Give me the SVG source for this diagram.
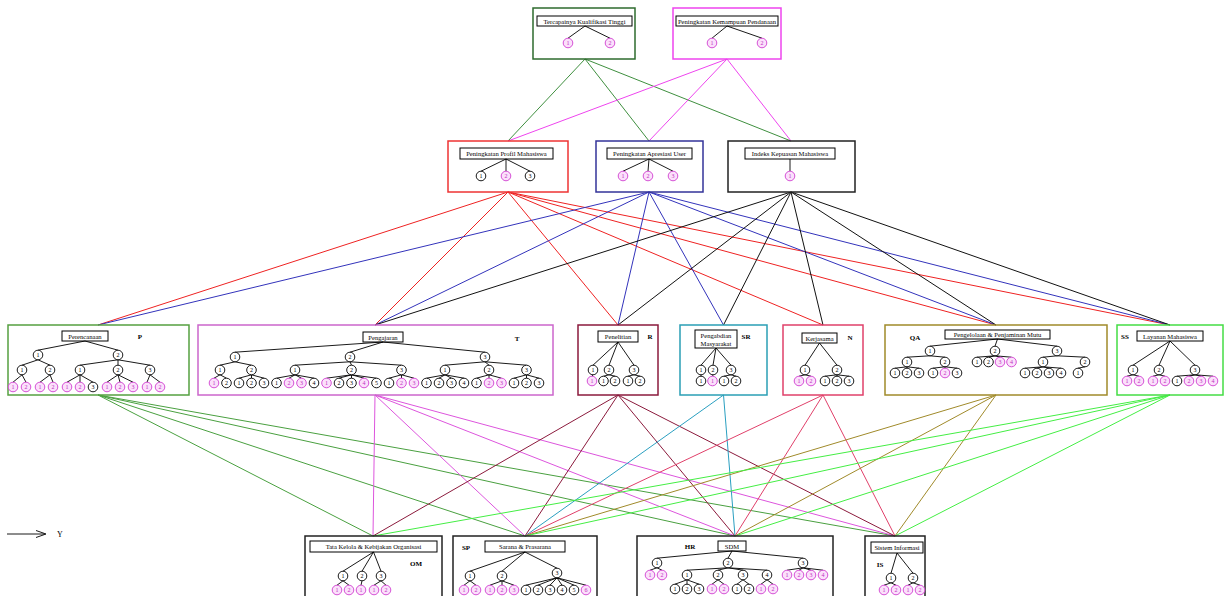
<svg xmlns="http://www.w3.org/2000/svg" width="1227" height="596" viewBox="0 0 1227 596">
<style>
.bx{fill:none;stroke-width:1.5}
.lb{fill:#fff;stroke:#000;stroke-width:1}
.lt{font-family:"Liberation Serif",serif;font-size:6.6px;text-anchor:middle;fill:#000}
.tl{stroke:#000;stroke-width:0.9;fill:none}
.cb{fill:#fff;stroke:#000;stroke-width:0.9}
.cp{fill:#fbe0fb;stroke:#d040d0;stroke-width:0.9}
.nb{font-family:"Liberation Serif",serif;font-size:6px;text-anchor:middle;fill:#000}
.np{font-family:"Liberation Serif",serif;font-size:6px;text-anchor:middle;fill:#c030c0}
.cd{font-family:"Liberation Serif",serif;font-size:7px;font-weight:bold;text-anchor:middle;fill:#000}
.cn line,.cn path{stroke-width:1;fill:none}
</style>
<rect width="1227" height="596" fill="#fff"/>
<g id="connectors" class="cn">
<g stroke="#3f8f3f"><path d="M585 59L508 141M585 59L649 141M585 59L791 141"/></g>
<g stroke="#ee44ee"><path d="M727 59L508 141M727 59L649 141M727 59L791 141"/></g>
<g stroke="#ee2222"><path d="M508 192L98 325M508 192L375 325M508 192L618 325M508 192L823 325M508 192L996 325M508 192L1170 325"/></g>
<g stroke="#3333bb"><path d="M649 192L98 325M649 192L375 325M649 192L618 325M649 192L723.5 325M649 192L996 325M649 192L1170 325"/></g>
<g stroke="#111"><path d="M791 192L375 325M791 192L618 325M791 192L723.5 325M791 192L823 325M791 192L996 325M791 192L1170 325"/></g>
<g stroke="#4aa040"><path d="M98 395L373 536M98 395L525 536M98 395L735 536M98 395L895 536"/></g>
<g stroke="#dd55dd"><path d="M375 395L373 536M375 395L525 536M375 395L735 536M375 395L895 536"/></g>
<g stroke="#8b1a3c"><path d="M618 395L373 536M618 395L525 536M618 395L735 536M618 395L895 536"/></g>
<g stroke="#2a9fc0"><path d="M723.5 395L525 536M723.5 395L735 536"/></g>
<g stroke="#e0406a"><path d="M823 395L525 536M823 395L735 536M823 395L895 536"/></g>
<g stroke="#a08a2a"><path d="M996 395L525 536M996 395L735 536M996 395L895 536"/></g>
<g stroke="#44ee44"><path d="M1170 395L373 536M1170 395L525 536M1170 395L735 536M1170 395L895 536"/></g>
</g>
<g id="n-kualifikasi">
<rect class="bx" x="533" y="8" width="102" height="51" stroke="#2e6b2e"/>
<rect class="lb" x="537" y="16" width="95" height="10"/>
<text class="lt" x="584.5" y="23.6">Tercapainya Kualifikasi Tinggi</text>
<path class="tl" d="M585 26L568 38.2M585 26L610 38.2"/>
<circle class="cp" cx="568" cy="43" r="4.8"/><text class="np" x="568" y="45.1">1</text>
<circle class="cp" cx="610" cy="43" r="4.8"/><text class="np" x="610" y="45.1">2</text>
</g>
<g id="n-pendanaan">
<rect class="bx" x="673" y="8" width="108" height="51" stroke="#ee44ee"/>
<rect class="lb" x="676" y="16" width="102" height="10"/>
<text class="lt" x="727" y="23.6">Peningkatan Kemampuan Pendanaan</text>
<path class="tl" d="M727 26L712 38.2M727 26L762 38.2"/>
<circle class="cp" cx="712" cy="43" r="4.8"/><text class="np" x="712" y="45.1">1</text>
<circle class="cp" cx="762" cy="43" r="4.8"/><text class="np" x="762" y="45.1">2</text>
</g>
<g id="n-profil">
<rect class="bx" x="448" y="141" width="120" height="51" stroke="#ee3333"/>
<rect class="lb" x="460" y="148" width="93" height="11"/>
<text class="lt" x="506.5" y="156.2">Peningkatan Profil Mahasiswa</text>
<path class="tl" d="M506 159L481 171.2M506 159L506 171.2M506 159L530 171.2"/>
<circle class="cb" cx="481" cy="176" r="4.8"/><text class="nb" x="481" y="178.1">1</text>
<circle class="cp" cx="506" cy="176" r="4.8"/><text class="np" x="506" y="178.1">2</text>
<circle class="cb" cx="530" cy="176" r="4.8"/><text class="nb" x="530" y="178.1">3</text>
</g>
<g id="n-apresiasi">
<rect class="bx" x="596" y="141" width="107" height="51" stroke="#333399"/>
<rect class="lb" x="607" y="148" width="85" height="11"/>
<text class="lt" x="649.5" y="156.2">Peningkatan Apresiasi User</text>
<path class="tl" d="M649 159L623 171.2M649 159L648 171.2M649 159L673 171.2"/>
<circle class="cp" cx="623" cy="176" r="4.8"/><text class="np" x="623" y="178.1">1</text>
<circle class="cp" cx="648" cy="176" r="4.8"/><text class="np" x="648" y="178.1">2</text>
<circle class="cp" cx="673" cy="176" r="4.8"/><text class="np" x="673" y="178.1">3</text>
</g>
<g id="n-kepuasan">
<rect class="bx" x="728" y="141" width="127" height="51" stroke="#222"/>
<rect class="lb" x="745" y="148" width="90" height="11"/>
<text class="lt" x="790" y="156.2">Indeks Kepuasan Mahasiswa</text>
<path class="tl" d="M790 159L790 171.2"/>
<circle class="cp" cx="790" cy="176" r="4.8"/><text class="np" x="790" y="178.1">1</text>
</g>
<g id="n-perencanaan">
<rect class="bx" x="8" y="325" width="181" height="70" stroke="#55a040"/>
<rect class="lb" x="62" y="331" width="46" height="10"/>
<text class="lt" x="85" y="338.6">Perencanaan</text>
<text class="cd" x="140" y="339">P</text>
<path class="tl" d="M85 341L38 350.2M85 341L118 350.2M38 359.8L22 365.2M38 359.8L50 365.2M118 359.8L80 365.2M118 359.8L118 365.2M118 359.8L150 365.2M22 374.8L13 382.2M22 374.8L26 382.2M50 374.8L40 382.2M50 374.8L53 382.2M80 374.8L67 382.2M80 374.8L80 382.2M80 374.8L93 382.2M118 374.8L107 382.2M118 374.8L120 382.2M118 374.8L133 382.2M150 374.8L147 382.2M150 374.8L160 382.2"/>
<circle class="cb" cx="38" cy="355" r="4.8"/><text class="nb" x="38" y="357.1">1</text>
<circle class="cb" cx="118" cy="355" r="4.8"/><text class="nb" x="118" y="357.1">2</text>
<circle class="cb" cx="22" cy="370" r="4.8"/><text class="nb" x="22" y="372.1">1</text>
<circle class="cb" cx="50" cy="370" r="4.8"/><text class="nb" x="50" y="372.1">2</text>
<circle class="cb" cx="80" cy="370" r="4.8"/><text class="nb" x="80" y="372.1">1</text>
<circle class="cb" cx="118" cy="370" r="4.8"/><text class="nb" x="118" y="372.1">2</text>
<circle class="cb" cx="150" cy="370" r="4.8"/><text class="nb" x="150" y="372.1">3</text>
<circle class="cp" cx="13" cy="387" r="4.8"/><text class="np" x="13" y="389.1">1</text>
<circle class="cp" cx="26" cy="387" r="4.8"/><text class="np" x="26" y="389.1">2</text>
<circle class="cp" cx="40" cy="387" r="4.8"/><text class="np" x="40" y="389.1">1</text>
<circle class="cp" cx="53" cy="387" r="4.8"/><text class="np" x="53" y="389.1">2</text>
<circle class="cp" cx="67" cy="387" r="4.8"/><text class="np" x="67" y="389.1">1</text>
<circle class="cp" cx="80" cy="387" r="4.8"/><text class="np" x="80" y="389.1">2</text>
<circle class="cb" cx="93" cy="387" r="4.8"/><text class="nb" x="93" y="389.1">3</text>
<circle class="cp" cx="107" cy="387" r="4.8"/><text class="np" x="107" y="389.1">1</text>
<circle class="cp" cx="120" cy="387" r="4.8"/><text class="np" x="120" y="389.1">2</text>
<circle class="cp" cx="133" cy="387" r="4.8"/><text class="np" x="133" y="389.1">3</text>
<circle class="cp" cx="147" cy="387" r="4.8"/><text class="np" x="147" y="389.1">1</text>
<circle class="cp" cx="160" cy="387" r="4.8"/><text class="np" x="160" y="389.1">2</text>
</g>
<g id="n-pengajaran">
<rect class="bx" x="198" y="325" width="355" height="70" stroke="#cc66cc"/>
<rect class="lb" x="363" y="332" width="40" height="10"/>
<text class="lt" x="383" y="339.6">Pengajaran</text>
<text class="cd" x="517" y="341">T</text>
<path class="tl" d="M383 342L235 352.2M383 342L350 352.2M383 342L485 352.2M235 361.8L220 365.2M235 361.8L251.5 365.2M350 361.8L295 365.2M350 361.8L351.5 365.2M350 361.8L401.5 365.2M485 361.8L445 365.2M485 361.8L489 365.2M485 361.8L526.5 365.2
M220 374.8L214 378.2M220 374.8L226.5 378.2M251.5 374.8L239 378.2M251.5 374.8L251.5 378.2M251.5 374.8L264 378.2M295 374.8L276.5 378.2M295 374.8L289 378.2M295 374.8L301.5 378.2M295 374.8L314 378.2M351.5 374.8L326.5 378.2M351.5 374.8L339 378.2M351.5 374.8L351.5 378.2M351.5 374.8L364 378.2M351.5 374.8L376.5 378.2M401.5 374.8L389 378.2M401.5 374.8L401.5 378.2M401.5 374.8L414 378.2M445 374.8L426.5 378.2M445 374.8L439 378.2M445 374.8L451.5 378.2M445 374.8L464 378.2M489 374.8L476.5 378.2M489 374.8L489 378.2M489 374.8L501.5 378.2M526.5 374.8L514 378.2M526.5 374.8L526.5 378.2M526.5 374.8L539 378.2"/>
<circle class="cb" cx="235" cy="357" r="4.8"/><text class="nb" x="235" y="359.1">1</text>
<circle class="cb" cx="350" cy="357" r="4.8"/><text class="nb" x="350" y="359.1">2</text>
<circle class="cb" cx="485" cy="357" r="4.8"/><text class="nb" x="485" y="359.1">3</text>
<circle class="cb" cx="220" cy="370" r="4.8"/><text class="nb" x="220" y="372.1">1</text>
<circle class="cb" cx="251.5" cy="370" r="4.8"/><text class="nb" x="251.5" y="372.1">2</text>
<circle class="cb" cx="295" cy="370" r="4.8"/><text class="nb" x="295" y="372.1">1</text>
<circle class="cb" cx="351.5" cy="370" r="4.8"/><text class="nb" x="351.5" y="372.1">2</text>
<circle class="cb" cx="401.5" cy="370" r="4.8"/><text class="nb" x="401.5" y="372.1">3</text>
<circle class="cb" cx="445" cy="370" r="4.8"/><text class="nb" x="445" y="372.1">1</text>
<circle class="cb" cx="489" cy="370" r="4.8"/><text class="nb" x="489" y="372.1">2</text>
<circle class="cb" cx="526.5" cy="370" r="4.8"/><text class="nb" x="526.5" y="372.1">3</text>
<circle class="cp" cx="214" cy="383" r="4.8"/><text class="np" x="214" y="385.1">1</text>
<circle class="cb" cx="226.5" cy="383" r="4.8"/><text class="nb" x="226.5" y="385.1">2</text>
<circle class="cb" cx="239" cy="383" r="4.8"/><text class="nb" x="239" y="385.1">1</text>
<circle class="cb" cx="251.5" cy="383" r="4.8"/><text class="nb" x="251.5" y="385.1">2</text>
<circle class="cb" cx="264" cy="383" r="4.8"/><text class="nb" x="264" y="385.1">3</text>
<circle class="cb" cx="276.5" cy="383" r="4.8"/><text class="nb" x="276.5" y="385.1">1</text>
<circle class="cp" cx="289" cy="383" r="4.8"/><text class="np" x="289" y="385.1">2</text>
<circle class="cp" cx="301.5" cy="383" r="4.8"/><text class="np" x="301.5" y="385.1">3</text>
<circle class="cb" cx="314" cy="383" r="4.8"/><text class="nb" x="314" y="385.1">4</text>
<circle class="cp" cx="326.5" cy="383" r="4.8"/><text class="np" x="326.5" y="385.1">1</text>
<circle class="cb" cx="339" cy="383" r="4.8"/><text class="nb" x="339" y="385.1">2</text>
<circle class="cb" cx="351.5" cy="383" r="4.8"/><text class="nb" x="351.5" y="385.1">3</text>
<circle class="cp" cx="364" cy="383" r="4.8"/><text class="np" x="364" y="385.1">4</text>
<circle class="cb" cx="376.5" cy="383" r="4.8"/><text class="nb" x="376.5" y="385.1">5</text>
<circle class="cb" cx="389" cy="383" r="4.8"/><text class="nb" x="389" y="385.1">1</text>
<circle class="cp" cx="401.5" cy="383" r="4.8"/><text class="np" x="401.5" y="385.1">2</text>
<circle class="cp" cx="414" cy="383" r="4.8"/><text class="np" x="414" y="385.1">3</text>
<circle class="cb" cx="426.5" cy="383" r="4.8"/><text class="nb" x="426.5" y="385.1">1</text>
<circle class="cb" cx="439" cy="383" r="4.8"/><text class="nb" x="439" y="385.1">2</text>
<circle class="cb" cx="451.5" cy="383" r="4.8"/><text class="nb" x="451.5" y="385.1">3</text>
<circle class="cb" cx="464" cy="383" r="4.8"/><text class="nb" x="464" y="385.1">4</text>
<circle class="cb" cx="476.5" cy="383" r="4.8"/><text class="nb" x="476.5" y="385.1">1</text>
<circle class="cp" cx="489" cy="383" r="4.8"/><text class="np" x="489" y="385.1">2</text>
<circle class="cp" cx="501.5" cy="383" r="4.8"/><text class="np" x="501.5" y="385.1">3</text>
<circle class="cb" cx="514" cy="383" r="4.8"/><text class="nb" x="514" y="385.1">1</text>
<circle class="cb" cx="526.5" cy="383" r="4.8"/><text class="nb" x="526.5" y="385.1">2</text>
<circle class="cb" cx="539" cy="383" r="4.8"/><text class="nb" x="539" y="385.1">3</text>
</g>
<g id="n-penelitian">
<rect class="bx" x="578" y="325" width="80" height="70" stroke="#8b1a3c"/>
<rect class="lb" x="598" y="331" width="40" height="11"/>
<text class="lt" x="618" y="339.2">Penelitian</text>
<text class="cd" x="650" y="339">R</text>
<path class="tl" d="M618 342L593 365.2M618 342L609 365.2M618 342L634 365.2M593 374.8L592 376.2M609 374.8L603.5 376.2M609 374.8L615 376.2M634 374.8L628 376.2M634 374.8L640 376.2"/>
<circle class="cb" cx="593" cy="370" r="4.8"/><text class="nb" x="593" y="372.1">1</text>
<circle class="cb" cx="609" cy="370" r="4.8"/><text class="nb" x="609" y="372.1">2</text>
<circle class="cb" cx="634" cy="370" r="4.8"/><text class="nb" x="634" y="372.1">3</text>
<circle class="cp" cx="592" cy="381" r="4.8"/><text class="np" x="592" y="383.1">1</text>
<circle class="cb" cx="603.5" cy="381" r="4.8"/><text class="nb" x="603.5" y="383.1">1</text>
<circle class="cb" cx="615" cy="381" r="4.8"/><text class="nb" x="615" y="383.1">2</text>
<circle class="cb" cx="628" cy="381" r="4.8"/><text class="nb" x="628" y="383.1">1</text>
<circle class="cb" cx="640" cy="381" r="4.8"/><text class="nb" x="640" y="383.1">2</text>
</g>
<g id="n-pengabdian">
<rect class="bx" x="680" y="325" width="87" height="70" stroke="#2a9fb5"/>
<rect class="lb" x="695" y="330" width="42" height="18"/>
<text class="lt" x="716" y="337.5">Pengabdian</text>
<text class="lt" x="716" y="345.5">Masyarakat</text>
<text class="cd" x="746" y="339">SR</text>
<path class="tl" d="M716 348L701 365.2M716 348L713 365.2M716 348L731 365.2M701 374.8L701 376.2M713 374.8L712.5 376.2M731 374.8L724 376.2M731 374.8L736 376.2"/>
<circle class="cb" cx="701" cy="370" r="4.8"/><text class="nb" x="701" y="372.1">1</text>
<circle class="cb" cx="713" cy="370" r="4.8"/><text class="nb" x="713" y="372.1">2</text>
<circle class="cb" cx="731" cy="370" r="4.8"/><text class="nb" x="731" y="372.1">3</text>
<circle class="cb" cx="701" cy="381" r="4.8"/><text class="nb" x="701" y="383.1">1</text>
<circle class="cp" cx="712.5" cy="381" r="4.8"/><text class="np" x="712.5" y="383.1">1</text>
<circle class="cb" cx="724" cy="381" r="4.8"/><text class="nb" x="724" y="383.1">1</text>
<circle class="cb" cx="736" cy="381" r="4.8"/><text class="nb" x="736" y="383.1">2</text>
</g>
<g id="n-kerjasama">
<rect class="bx" x="783" y="325" width="80" height="70" stroke="#e0406a"/>
<rect class="lb" x="802" y="333" width="35" height="10"/>
<text class="lt" x="819.5" y="340.6">Kerjasama</text>
<text class="cd" x="850" y="340">N</text>
<path class="tl" d="M819.5 343L805 365.2M819.5 343L837 365.2M805 374.8L799 376.2M805 374.8L811 376.2M837 374.8L825 376.2M837 374.8L837 376.2M837 374.8L849 376.2"/>
<circle class="cb" cx="805" cy="370" r="4.8"/><text class="nb" x="805" y="372.1">1</text>
<circle class="cb" cx="837" cy="370" r="4.8"/><text class="nb" x="837" y="372.1">2</text>
<circle class="cp" cx="799" cy="381" r="4.8"/><text class="np" x="799" y="383.1">1</text>
<circle class="cp" cx="811" cy="381" r="4.8"/><text class="np" x="811" y="383.1">2</text>
<circle class="cb" cx="825" cy="381" r="4.8"/><text class="nb" x="825" y="383.1">1</text>
<circle class="cb" cx="837" cy="381" r="4.8"/><text class="nb" x="837" y="383.1">2</text>
<circle class="cb" cx="849" cy="381" r="4.8"/><text class="nb" x="849" y="383.1">3</text>
</g>
<g id="n-mutu">
<rect class="bx" x="885" y="325" width="222" height="70" stroke="#a08a2a"/>
<rect class="lb" x="945" y="330" width="105" height="9"/>
<text class="lt" x="997.5" y="337.1">Pengelolaan &amp; Penjaminan Mutu</text>
<text class="cd" x="915" y="340">QA</text>
<path class="tl" d="M997.5 339L930 346.2M997.5 339L995 346.2M997.5 339L1057 346.2M930 355.8L907 357.2M930 355.8L945 357.2M995 355.8L977 357.2M995 355.8L988.5 357.2M995 355.8L1000 357.2M995 355.8L1011.5 357.2M1057 355.8L1043 357.2M1057 355.8L1085 357.2M907 366.8L895 368.2M907 366.8L907 368.2M907 366.8L919 368.2M945 366.8L933 368.2M945 366.8L945 368.2M945 366.8L957 368.2M1043 366.8L1025 368.2M1043 366.8L1037 368.2M1043 366.8L1049 368.2M1043 366.8L1061 368.2M1085 366.8L1078 368.2"/>
<circle class="cb" cx="930" cy="351" r="4.8"/><text class="nb" x="930" y="353.1">1</text>
<circle class="cb" cx="995" cy="351" r="4.8"/><text class="nb" x="995" y="353.1">2</text>
<circle class="cb" cx="1057" cy="351" r="4.8"/><text class="nb" x="1057" y="353.1">3</text>
<circle class="cb" cx="907" cy="362" r="4.8"/><text class="nb" x="907" y="364.1">1</text>
<circle class="cb" cx="945" cy="362" r="4.8"/><text class="nb" x="945" y="364.1">2</text>
<circle class="cb" cx="977" cy="362" r="4.8"/><text class="nb" x="977" y="364.1">1</text>
<circle class="cb" cx="988.5" cy="362" r="4.8"/><text class="nb" x="988.5" y="364.1">2</text>
<circle class="cp" cx="1000" cy="362" r="4.8"/><text class="np" x="1000" y="364.1">3</text>
<circle class="cp" cx="1011.5" cy="362" r="4.8"/><text class="np" x="1011.5" y="364.1">4</text>
<circle class="cb" cx="1043" cy="362" r="4.8"/><text class="nb" x="1043" y="364.1">1</text>
<circle class="cb" cx="1085" cy="362" r="4.8"/><text class="nb" x="1085" y="364.1">2</text>
<circle class="cb" cx="895" cy="373" r="4.8"/><text class="nb" x="895" y="375.1">1</text>
<circle class="cb" cx="907" cy="373" r="4.8"/><text class="nb" x="907" y="375.1">2</text>
<circle class="cb" cx="919" cy="373" r="4.8"/><text class="nb" x="919" y="375.1">3</text>
<circle class="cb" cx="933" cy="373" r="4.8"/><text class="nb" x="933" y="375.1">1</text>
<circle class="cp" cx="945" cy="373" r="4.8"/><text class="np" x="945" y="375.1">2</text>
<circle class="cb" cx="957" cy="373" r="4.8"/><text class="nb" x="957" y="375.1">3</text>
<circle class="cb" cx="1025" cy="373" r="4.8"/><text class="nb" x="1025" y="375.1">1</text>
<circle class="cb" cx="1037" cy="373" r="4.8"/><text class="nb" x="1037" y="375.1">2</text>
<circle class="cb" cx="1049" cy="373" r="4.8"/><text class="nb" x="1049" y="375.1">3</text>
<circle class="cb" cx="1061" cy="373" r="4.8"/><text class="nb" x="1061" y="375.1">4</text>
<circle class="cb" cx="1078" cy="373" r="4.8"/><text class="nb" x="1078" y="375.1">1</text>
</g>
<g id="n-layanan">
<rect class="bx" x="1117" y="325" width="106" height="70" stroke="#44dd44"/>
<rect class="lb" x="1137" y="331" width="66" height="10"/>
<text class="lt" x="1170" y="338.6">Layanan Mahasiswa</text>
<text class="cd" x="1125" y="339">SS</text>
<path class="tl" d="M1170 341L1133 365.2M1170 341L1159 365.2M1170 341L1195 365.2M1133 374.8L1127 376.2M1133 374.8L1139 376.2M1159 374.8L1153 376.2M1159 374.8L1165 376.2M1195 374.8L1177 376.2M1195 374.8L1189 376.2M1195 374.8L1201 376.2M1195 374.8L1213 376.2"/>
<circle class="cb" cx="1133" cy="370" r="4.8"/><text class="nb" x="1133" y="372.1">1</text>
<circle class="cb" cx="1159" cy="370" r="4.8"/><text class="nb" x="1159" y="372.1">2</text>
<circle class="cb" cx="1195" cy="370" r="4.8"/><text class="nb" x="1195" y="372.1">3</text>
<circle class="cp" cx="1127" cy="381" r="4.8"/><text class="np" x="1127" y="383.1">1</text>
<circle class="cp" cx="1139" cy="381" r="4.8"/><text class="np" x="1139" y="383.1">2</text>
<circle class="cp" cx="1153" cy="381" r="4.8"/><text class="np" x="1153" y="383.1">1</text>
<circle class="cp" cx="1165" cy="381" r="4.8"/><text class="np" x="1165" y="383.1">2</text>
<circle class="cb" cx="1177" cy="381" r="4.8"/><text class="nb" x="1177" y="383.1">1</text>
<circle class="cp" cx="1189" cy="381" r="4.8"/><text class="np" x="1189" y="383.1">2</text>
<circle class="cp" cx="1201" cy="381" r="4.8"/><text class="np" x="1201" y="383.1">3</text>
<circle class="cp" cx="1213" cy="381" r="4.8"/><text class="np" x="1213" y="383.1">4</text>
</g>
<g id="n-organisasi">
<rect class="bx" x="305" y="536" width="137" height="70" stroke="#222"/>
<rect class="lb" x="310" y="541" width="127" height="11"/>
<text class="lt" x="373.5" y="549.2">Tata Kelola &amp; Kebijakan Organisasi</text>
<text class="cd" x="416" y="566">OM</text>
<path class="tl" d="M373.5 552L343 571.2M373.5 552L362 571.2M373.5 552L381 571.2M343 580.8L337 585.2M343 580.8L349 585.2M362 580.8L361 585.2M381 580.8L374 585.2M381 580.8L386 585.2"/>
<circle class="cb" cx="343" cy="576" r="4.8"/><text class="nb" x="343" y="578.1">1</text>
<circle class="cb" cx="362" cy="576" r="4.8"/><text class="nb" x="362" y="578.1">2</text>
<circle class="cb" cx="381" cy="576" r="4.8"/><text class="nb" x="381" y="578.1">3</text>
<circle class="cp" cx="337" cy="590" r="4.8"/><text class="np" x="337" y="592.1">1</text>
<circle class="cp" cx="349" cy="590" r="4.8"/><text class="np" x="349" y="592.1">2</text>
<circle class="cp" cx="361" cy="590" r="4.8"/><text class="np" x="361" y="592.1">1</text>
<circle class="cp" cx="374" cy="590" r="4.8"/><text class="np" x="374" y="592.1">1</text>
<circle class="cp" cx="386" cy="590" r="4.8"/><text class="np" x="386" y="592.1">2</text>
</g>
<g id="n-sarana">
<rect class="bx" x="453" y="536" width="144" height="70" stroke="#222"/>
<rect class="lb" x="485" y="541" width="80" height="11"/>
<text class="lt" x="525" y="549.2">Sarana &amp; Prasarana</text>
<text class="cd" x="466" y="549.5">SP</text>
<path class="tl" d="M525 552L470 571.2M525 552L502 571.2M525 552L557 568.2M470 580.8L464 585.2M470 580.8L476 585.2M502 580.8L490 585.2M502 580.8L502 585.2M502 580.8L514 585.2M557 577.8L526 585.2M557 577.8L538 585.2M557 577.8L550 585.2M557 577.8L562 585.2M557 577.8L574 585.2M557 577.8L586 585.2"/>
<circle class="cb" cx="470" cy="576" r="4.8"/><text class="nb" x="470" y="578.1">1</text>
<circle class="cb" cx="502" cy="576" r="4.8"/><text class="nb" x="502" y="578.1">2</text>
<circle class="cb" cx="557" cy="573" r="4.8"/><text class="nb" x="557" y="575.1">3</text>
<circle class="cp" cx="464" cy="590" r="4.8"/><text class="np" x="464" y="592.1">1</text>
<circle class="cp" cx="476" cy="590" r="4.8"/><text class="np" x="476" y="592.1">2</text>
<circle class="cp" cx="490" cy="590" r="4.8"/><text class="np" x="490" y="592.1">1</text>
<circle class="cp" cx="502" cy="590" r="4.8"/><text class="np" x="502" y="592.1">2</text>
<circle class="cp" cx="514" cy="590" r="4.8"/><text class="np" x="514" y="592.1">3</text>
<circle class="cb" cx="526" cy="590" r="4.8"/><text class="nb" x="526" y="592.1">1</text>
<circle class="cb" cx="538" cy="590" r="4.8"/><text class="nb" x="538" y="592.1">2</text>
<circle class="cb" cx="550" cy="590" r="4.8"/><text class="nb" x="550" y="592.1">3</text>
<circle class="cb" cx="562" cy="590" r="4.8"/><text class="nb" x="562" y="592.1">4</text>
<circle class="cb" cx="574" cy="590" r="4.8"/><text class="nb" x="574" y="592.1">5</text>
<circle class="cp" cx="586" cy="590" r="4.8"/><text class="np" x="586" y="592.1">6</text>
</g>
<g id="n-sdm">
<rect class="bx" x="637" y="536" width="196" height="70" stroke="#222"/>
<rect class="lb" x="718" y="541" width="28" height="10"/>
<text class="lt" x="732" y="548.6">SDM</text>
<text class="cd" x="690" y="549">HR</text>
<path class="tl" d="M732 551L657 558.2M732 551L728 558.2M732 551L803 558.2M657 567.8L650 570.2M657 567.8L662 570.2M728 567.8L687 570.2M728 567.8L718 570.2M728 567.8L743 570.2M728 567.8L767 570.2M803 567.8L787 570.2M803 567.8L799 570.2M803 567.8L811 570.2M803 567.8L823 570.2M687 579.8L675 584.2M687 579.8L687 584.2M687 579.8L699 584.2M718 579.8L712 584.2M718 579.8L724 584.2M743 579.8L737 584.2M743 579.8L749 584.2M767 579.8L761 584.2M767 579.8L773 584.2"/>
<circle class="cb" cx="657" cy="563" r="4.8"/><text class="nb" x="657" y="565.1">1</text>
<circle class="cb" cx="728" cy="563" r="4.8"/><text class="nb" x="728" y="565.1">2</text>
<circle class="cb" cx="803" cy="563" r="4.8"/><text class="nb" x="803" y="565.1">3</text>
<circle class="cp" cx="650" cy="575" r="4.8"/><text class="np" x="650" y="577.1">1</text>
<circle class="cp" cx="662" cy="575" r="4.8"/><text class="np" x="662" y="577.1">2</text>
<circle class="cb" cx="687" cy="575" r="4.8"/><text class="nb" x="687" y="577.1">1</text>
<circle class="cb" cx="718" cy="575" r="4.8"/><text class="nb" x="718" y="577.1">2</text>
<circle class="cb" cx="743" cy="575" r="4.8"/><text class="nb" x="743" y="577.1">3</text>
<circle class="cb" cx="767" cy="575" r="4.8"/><text class="nb" x="767" y="577.1">4</text>
<circle class="cp" cx="787" cy="575" r="4.8"/><text class="np" x="787" y="577.1">1</text>
<circle class="cp" cx="799" cy="575" r="4.8"/><text class="np" x="799" y="577.1">2</text>
<circle class="cp" cx="811" cy="575" r="4.8"/><text class="np" x="811" y="577.1">3</text>
<circle class="cp" cx="823" cy="575" r="4.8"/><text class="np" x="823" y="577.1">4</text>
<circle class="cb" cx="675" cy="589" r="4.8"/><text class="nb" x="675" y="591.1">1</text>
<circle class="cb" cx="687" cy="589" r="4.8"/><text class="nb" x="687" y="591.1">2</text>
<circle class="cb" cx="699" cy="589" r="4.8"/><text class="nb" x="699" y="591.1">3</text>
<circle class="cp" cx="712" cy="589" r="4.8"/><text class="np" x="712" y="591.1">1</text>
<circle class="cp" cx="724" cy="589" r="4.8"/><text class="np" x="724" y="591.1">2</text>
<circle class="cb" cx="737" cy="589" r="4.8"/><text class="nb" x="737" y="591.1">1</text>
<circle class="cb" cx="749" cy="589" r="4.8"/><text class="nb" x="749" y="591.1">2</text>
<circle class="cp" cx="761" cy="589" r="4.8"/><text class="np" x="761" y="591.1">1</text>
<circle class="cp" cx="773" cy="589" r="4.8"/><text class="np" x="773" y="591.1">2</text>
</g>
<g id="n-si">
<rect class="bx" x="865" y="536" width="60" height="70" stroke="#222"/>
<rect class="lb" x="871" y="542" width="52" height="11"/>
<text class="lt" x="897" y="550.2">Sistem Informasi</text>
<text class="cd" x="880" y="567">IS</text>
<path class="tl" d="M897 553L891 573.2M897 553L913 573.2M891 582.8L884 585.2M891 582.8L896 585.2M913 582.8L908 585.2M913 582.8L920 585.2"/>
<circle class="cb" cx="891" cy="578" r="4.8"/><text class="nb" x="891" y="580.1">1</text>
<circle class="cb" cx="913" cy="578" r="4.8"/><text class="nb" x="913" y="580.1">2</text>
<circle class="cp" cx="884" cy="590" r="4.8"/><text class="np" x="884" y="592.1">1</text>
<circle class="cp" cx="896" cy="590" r="4.8"/><text class="np" x="896" y="592.1">2</text>
<circle class="cp" cx="908" cy="590" r="4.8"/><text class="np" x="908" y="592.1">1</text>
<circle class="cp" cx="920" cy="590" r="4.8"/><text class="np" x="920" y="592.1">2</text>
</g>
<g id="axis-y">
<path d="M7 534H44M36 530.5L46 534L36 537.5" stroke="#000" stroke-width="0.9" fill="none"/>
<text x="60" y="537" font-family="Liberation Serif, serif" font-size="8" text-anchor="middle">Y</text>
</g>
</svg>
